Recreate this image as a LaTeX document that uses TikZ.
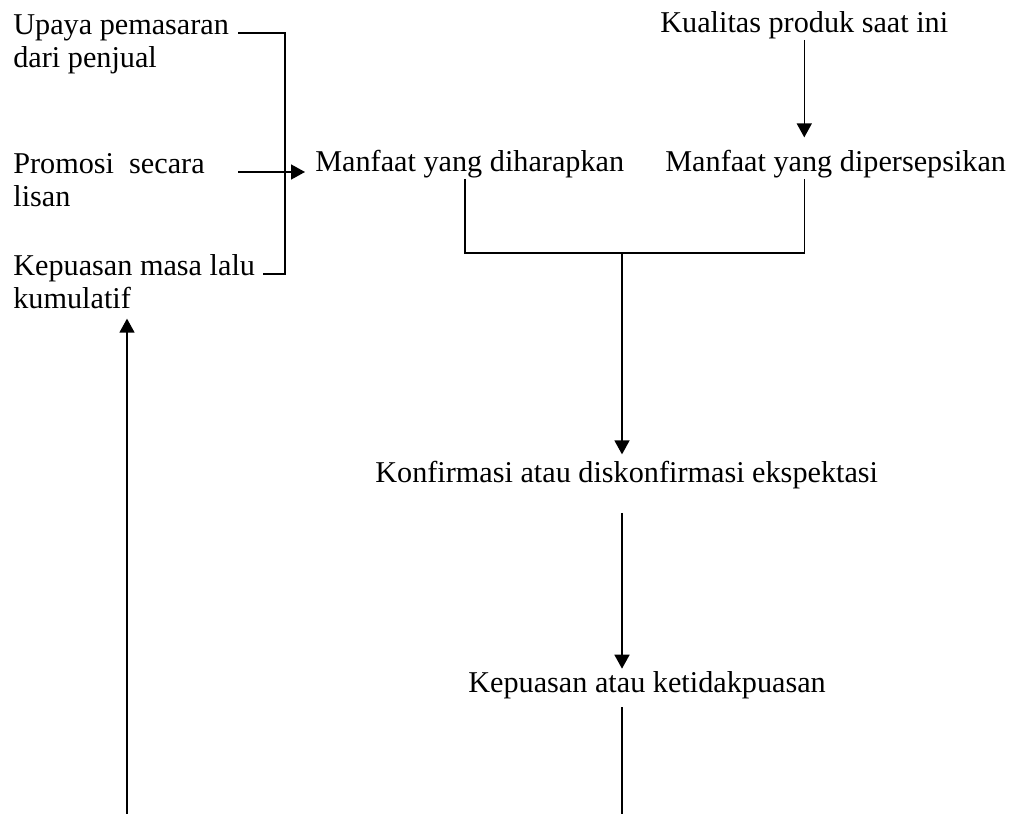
\documentclass[tikz,border=0pt]{standalone}
\usepackage{fontspec}
\setmainfont{Liberation Serif}
\usetikzlibrary{arrows.meta}

\begin{document}
\begin{tikzpicture}[x=0.02cm, y=-0.02cm,
    lbl/.style={inner sep=0, anchor=base west, align=left, font=\fontsize{17.2}{18.8}\selectfont},
    con/.style={line width=0.9pt},
    arr/.style={con, -{Triangle[length=0.28cm, width=0.3cm]}}]
  \useasboundingbox (0,0) rectangle (1011,814);
  % inputs on the left (base = last line)
  \node[lbl] (upaya) at (13,68) {Upaya pemasaran\\dari penjual};
  \node[lbl] (promosi) at (13,207) {Promosi\ \ secara\\lisan};
  \node[lbl] (lalu) at (13,309) {Kepuasan masa lalu\\kumulatif};
  % benefits
  \node[lbl] (kualitas) at (660,33) {Kualitas produk saat ini};
  \node[lbl] (diharap) at (315,172) {Manfaat yang diharapkan};
  \node[lbl] (persepsi) at (665,172) {Manfaat yang dipersepsikan};
  % outcome chain
  \node[lbl] (konf) at (375,482) {Konfirmasi atau diskonfirmasi ekspektasi};
  \node[lbl] (puas) at (468,692) {Kepuasan atau ketidakpuasan};

  \coordinate (ua) at (238,33);
  \coordinate (pa) at (238,172);
  \coordinate (ka) at (263,274);
  \coordinate (br) at (285,172);
  \coordinate (mid) at (622,253);
  \coordinate (bot) at (622,814);
  \coordinate (lb) at (127,814);

  \draw[con] (ua) -| (br) |- (ka);
  \draw[arr, shorten >=0.2cm] (pa) -- (diharap.base west);
  \draw[arr] (kualitas.south) -- ([yshift=0.26cm]kualitas.south |- persepsi.north);
  \draw[con] ([xshift=-0.1cm]diharap.south) |- (mid) -| (persepsi.south -| kualitas.south);
  \draw[arr, shorten >=0.12cm] (mid) -- (mid |- konf.north);
  \draw[arr, shorten <=0.48cm, shorten >=0.04cm] (konf.south -| mid) -- (puas.north -| mid);
  \draw[con, shorten <=0.17cm] (puas.south -| mid) -- (bot);
  \draw[arr, shorten >=0.18cm] (lb) -- (lb |- lalu.south);
\end{tikzpicture}
\end{document}
